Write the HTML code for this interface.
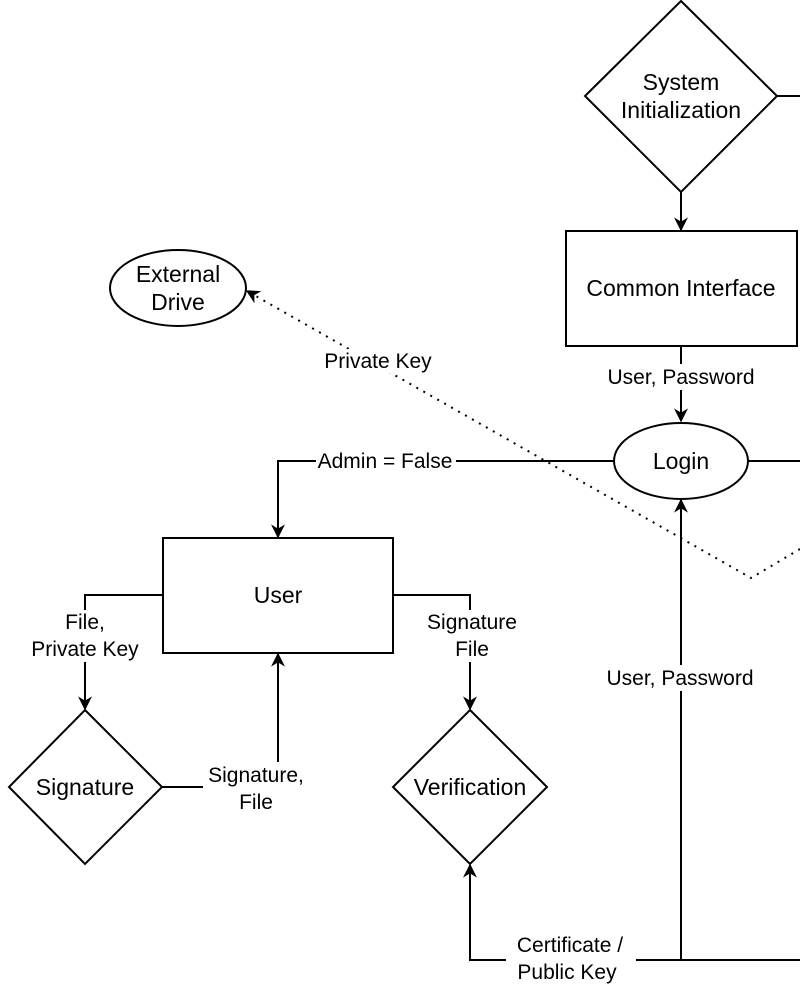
<!DOCTYPE html>
<html><head><meta charset="utf-8"><style>html,body{margin:0;padding:0;background:#fff}svg{display:block}</style></head>
<body>
<svg width="800" height="1000" viewBox="0 0 800 1000" xmlns="http://www.w3.org/2000/svg" font-family="Liberation Sans, Arial, sans-serif">
<defs>
<marker id="b" viewBox="0 0 10 10" refX="9" refY="5" markerWidth="14" markerHeight="14" orient="auto" markerUnits="userSpaceOnUse">
<path d="M0,0 L10,5 L0,10 L3,5 Z" fill="#000"/></marker>
</defs>
<g fill="none" stroke="#000" stroke-width="2">
<polygon points="681,1 777,96 681,192 585,96" fill="#fff"/>
<line x1="777" y1="96" x2="800" y2="96"/>
<line x1="681" y1="192" x2="681" y2="230" marker-end="url(#b)"/>
<rect x="566" y="231" width="231" height="115" fill="#fff"/>
<line x1="681" y1="346" x2="681" y2="421" marker-end="url(#b)"/>
<ellipse cx="681" cy="461" rx="67" ry="38" fill="#fff"/>
<line x1="748" y1="461" x2="800" y2="461"/>
<polyline points="614,461 278,461 278,537" marker-end="url(#b)"/>
<rect x="163" y="538" width="230" height="115" fill="#fff"/>
<polyline points="163,595 85,595 85,709" marker-end="url(#b)"/>
<polygon points="85,710 162,787 85,864 9,787" fill="#fff"/>
<polyline points="162,787 278,787 278,654" marker-end="url(#b)"/>
<polyline points="393,595 470,595 470,709" marker-end="url(#b)"/>
<polygon points="470,710 547,787 470,864 393,787" fill="#fff"/>
<polyline points="800,960 470,960 470,865" marker-end="url(#b)"/>
<line x1="681" y1="960" x2="681" y2="500" marker-end="url(#b)"/>
<ellipse cx="178" cy="288" rx="68" ry="38" fill="#fff"/>
<polyline points="800,549 751,578 247,291" stroke-dasharray="2,6" marker-end="url(#b)"/>
</g>
<g font-size="23" text-anchor="middle" fill="#000">
<text x="681" y="90">System</text><text x="681" y="118">Initialization</text>
<text x="681" y="296">Common Interface</text>
<text x="681" y="469">Login</text>
<text x="278" y="603">User</text>
<text x="85" y="795">Signature</text>
<text x="470" y="795">Verification</text>
<text x="178" y="282">External</text><text x="178" y="310">Drive</text>
</g>
<g font-size="21" text-anchor="middle" fill="#000">
<rect x="604" y="364" width="154" height="26" fill="#fff"/>
<text x="681" y="384">User, Password</text>
<rect x="316" y="449" width="140" height="24" fill="#fff"/>
<text x="385" y="468">Admin = False</text>
<rect x="28" y="610" width="116" height="52" fill="#fff"/>
<text x="85" y="629">File,</text><text x="85" y="656">Private Key</text>
<rect x="203" y="762" width="106" height="52" fill="#fff"/>
<text x="256" y="782">Signature,</text><text x="256" y="809">File</text>
<rect x="423" y="610" width="98" height="52" fill="#fff"/>
<text x="472" y="629">Signature</text><text x="472" y="656">File</text>
<rect x="603" y="665" width="154" height="26" fill="#fff"/>
<text x="680" y="685">User, Password</text>
<rect x="506" y="932" width="130" height="54" fill="#fff"/>
<text x="570" y="952">Certificate /</text><text x="567" y="979">Public Key</text>
<rect x="320" y="349" width="116" height="24" fill="#fff"/>
<text x="378" y="368">Private Key</text>
</g>
</svg>
</body></html>
